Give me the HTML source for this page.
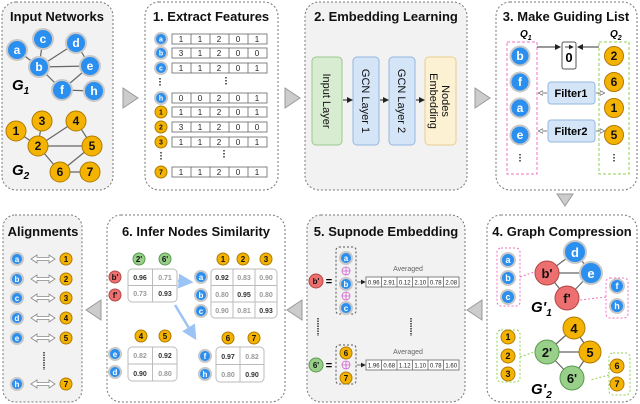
<!DOCTYPE html>
<html><head><meta charset="utf-8"><style>
html,body{margin:0;padding:0;background:#fff}
svg{display:block;font-family:"Liberation Sans",Arial,sans-serif}
.p{stroke:#777;stroke-width:1;stroke-dasharray:2 2}
.t{font-weight:bold;font-size:13px;fill:#111;text-anchor:middle}
.bl{fill:#2b8ff0;stroke:#c8c8c8;stroke-width:2}
.or{fill:#f5b301;stroke:#b07a00;stroke-width:1}
.rd{fill:#ee6f6f;stroke:#b04848;stroke-width:1}
.gr{fill:#98d08a;stroke:#5c9a50;stroke-width:1}
.wl{fill:#fff;font-weight:bold;text-anchor:middle}
.kl{fill:#111;font-weight:bold;text-anchor:middle}
.e{stroke:#666;stroke-width:1.2}
.cell{fill:#fff;stroke:#666;stroke-width:0.8}
.v{font-size:8px;fill:#222;text-anchor:middle}
.tri{fill:#ccc;stroke:#999}
</style></head><body>
<svg width="640" height="404" viewBox="0 0 640 404">
<defs>
<marker id="ah" markerWidth="6" markerHeight="6" refX="5" refY="3" orient="auto"><path d="M0,0 L6,3 L0,6 z" fill="#222"/></marker>
<marker id="ao" markerWidth="6" markerHeight="6" refX="5" refY="3" orient="auto"><path d="M0,0 L6,3 L0,6 z" fill="#fff" stroke="#555" stroke-width="0.8"/></marker>
<marker id="ab" markerWidth="6" markerHeight="6" refX="5" refY="3" orient="auto"><path d="M0,0 L6,3 L0,6 z" fill="#9cc3f5"/></marker>
</defs>

<rect x="2" y="2" width="111" height="188" rx="14" fill="#f2f2f2" class="p"/>
<rect x="145" y="2" width="133" height="188" rx="14" fill="#fff" class="p"/>
<rect x="305" y="2" width="162" height="188" rx="14" fill="#f2f2f2" class="p"/>
<rect x="496" y="2" width="141" height="188" rx="14" fill="#fff" class="p"/>
<rect x="3" y="215" width="79" height="187" rx="12" fill="#f2f2f2" class="p"/>
<rect x="107" y="215" width="178" height="187" rx="14" fill="#fff" class="p"/>
<rect x="307" y="215" width="158" height="187" rx="14" fill="#f2f2f2" class="p"/>
<rect x="487" y="215" width="150" height="187" rx="14" fill="#fff" class="p"/>

<path d="M123,88 L138,98 L123,108 z" class="tri"/>
<path d="M285,88 L300,98 L285,108 z" class="tri"/>
<path d="M475,88 L490,98 L475,108 z" class="tri"/>
<path d="M557,194 L573,194 L565,206 z" class="tri"/>
<path d="M482,300 L467,310 L482,320 z" class="tri"/>
<path d="M302,300 L287,310 L302,320 z" class="tri"/>
<path d="M101,300 L86,310 L101,320 z" class="tri"/>

<text x="57" y="21" class="t">Input Networks</text>
<text x="211" y="21" class="t">1. Extract Features</text>
<text x="386" y="21" class="t">2. Embedding Learning</text>
<text x="566" y="21" class="t">3. Make Guiding List</text>
<text x="43" y="236" class="t">Alignments</text>
<text x="196" y="236" class="t">6. Infer Nodes Similarity</text>
<text x="386" y="236" class="t">5. Supnode Embedding</text>
<text x="562" y="236" class="t">4. Graph Compression</text>

<g class="e">
<line x1="17" y1="50" x2="39" y2="67"/><line x1="43" y1="39" x2="39" y2="67"/><line x1="39" y1="67" x2="76" y2="43"/><line x1="39" y1="67" x2="90" y2="66"/><line x1="76" y1="43" x2="90" y2="66"/><line x1="39" y1="67" x2="62" y2="90"/><line x1="62" y1="90" x2="90" y2="66"/><line x1="62" y1="90" x2="94" y2="91"/>
<line x1="16" y1="131" x2="38" y2="146"/><line x1="42" y1="121" x2="38" y2="146"/><line x1="38" y1="146" x2="76" y2="121"/><line x1="38" y1="146" x2="92" y2="146"/><line x1="76" y1="121" x2="92" y2="146"/><line x1="38" y1="146" x2="60" y2="172"/><line x1="60" y1="172" x2="92" y2="146"/><line x1="60" y1="172" x2="90" y2="172"/>
</g>
<g font-size="12">
<circle cx="17" cy="50" r="10" class="bl"/><text x="17" y="54" class="wl">a</text>
<circle cx="43" cy="39" r="10" class="bl"/><text x="43" y="43" class="wl">c</text>
<circle cx="76" cy="43" r="10" class="bl"/><text x="76" y="47" class="wl">d</text>
<circle cx="39" cy="67" r="10" class="bl"/><text x="39" y="71" class="wl">b</text>
<circle cx="90" cy="66" r="10" class="bl"/><text x="90" y="70" class="wl">e</text>
<circle cx="62" cy="90" r="10" class="bl"/><text x="62" y="94" class="wl">f</text>
<circle cx="94" cy="91" r="10" class="bl"/><text x="94" y="95" class="wl">h</text>
<circle cx="16" cy="131" r="10" class="or"/><text x="16" y="135" class="kl">1</text>
<circle cx="42" cy="121" r="10" class="or"/><text x="42" y="125" class="kl">3</text>
<circle cx="76" cy="121" r="10" class="or"/><text x="76" y="125" class="kl">4</text>
<circle cx="38" cy="146" r="10" class="or"/><text x="38" y="150" class="kl">2</text>
<circle cx="92" cy="146" r="10" class="or"/><text x="92" y="150" class="kl">5</text>
<circle cx="60" cy="172" r="10" class="or"/><text x="60" y="176" class="kl">6</text>
<circle cx="90" cy="172" r="10" class="or"/><text x="90" y="176" class="kl">7</text>
</g>
<text x="12" y="90" font-size="15" font-style="italic" font-weight="bold">G<tspan font-size="10" dy="4">1</tspan></text>
<text x="12" y="175" font-size="15" font-style="italic" font-weight="bold">G<tspan font-size="10" dy="4">2</tspan></text>

<g font-size="7">
<circle cx="161" cy="39" r="6" class="bl" stroke-width="1"/><text x="161" y="41.5" class="wl">a</text>
<circle cx="161" cy="53" r="6" class="bl" stroke-width="1"/><text x="161" y="55.5" class="wl">b</text>
<circle cx="161" cy="68" r="6" class="bl" stroke-width="1"/><text x="161" y="70.5" class="wl">c</text>
<circle cx="161" cy="98" r="6" class="bl" stroke-width="1"/><text x="161" y="100.5" class="wl">h</text>
<circle cx="161" cy="112" r="6" class="or"/><text x="161" y="114.5" class="kl">1</text>
<circle cx="161" cy="127" r="6" class="or"/><text x="161" y="129.5" class="kl">2</text>
<circle cx="161" cy="142" r="6" class="or"/><text x="161" y="144.5" class="kl">3</text>
<circle cx="161" cy="172" r="6" class="or"/><text x="161" y="174.5" class="kl">7</text>
</g>
<g>
<g transform="translate(0,34)"><rect x="172" width="95" height="10" class="cell"/><path d="M191,0v10M210,0v10M229,0v10M248,0v10" stroke="#666" stroke-width="0.8"/><text y="8" class="v"><tspan x="181">1</tspan><tspan x="200">1</tspan><tspan x="219">2</tspan><tspan x="238">0</tspan><tspan x="257">1</tspan></text></g>
<g transform="translate(0,48)"><rect x="172" width="95" height="10" class="cell"/><path d="M191,0v10M210,0v10M229,0v10M248,0v10" stroke="#666" stroke-width="0.8"/><text y="8" class="v"><tspan x="181">3</tspan><tspan x="200">1</tspan><tspan x="219">2</tspan><tspan x="238">0</tspan><tspan x="257">0</tspan></text></g>
<g transform="translate(0,63)"><rect x="172" width="95" height="10" class="cell"/><path d="M191,0v10M210,0v10M229,0v10M248,0v10" stroke="#666" stroke-width="0.8"/><text y="8" class="v"><tspan x="181">1</tspan><tspan x="200">1</tspan><tspan x="219">2</tspan><tspan x="238">0</tspan><tspan x="257">1</tspan></text></g>
<g transform="translate(0,93)"><rect x="172" width="95" height="10" class="cell"/><path d="M191,0v10M210,0v10M229,0v10M248,0v10" stroke="#666" stroke-width="0.8"/><text y="8" class="v"><tspan x="181">0</tspan><tspan x="200">0</tspan><tspan x="219">2</tspan><tspan x="238">0</tspan><tspan x="257">1</tspan></text></g>
<g transform="translate(0,107)"><rect x="172" width="95" height="10" class="cell"/><path d="M191,0v10M210,0v10M229,0v10M248,0v10" stroke="#666" stroke-width="0.8"/><text y="8" class="v"><tspan x="181">1</tspan><tspan x="200">1</tspan><tspan x="219">2</tspan><tspan x="238">0</tspan><tspan x="257">1</tspan></text></g>
<g transform="translate(0,122)"><rect x="172" width="95" height="10" class="cell"/><path d="M191,0v10M210,0v10M229,0v10M248,0v10" stroke="#666" stroke-width="0.8"/><text y="8" class="v"><tspan x="181">3</tspan><tspan x="200">1</tspan><tspan x="219">2</tspan><tspan x="238">0</tspan><tspan x="257">0</tspan></text></g>
<g transform="translate(0,137)"><rect x="172" width="95" height="10" class="cell"/><path d="M191,0v10M210,0v10M229,0v10M248,0v10" stroke="#666" stroke-width="0.8"/><text y="8" class="v"><tspan x="181">1</tspan><tspan x="200">1</tspan><tspan x="219">2</tspan><tspan x="238">0</tspan><tspan x="257">1</tspan></text></g>
<g transform="translate(0,167)"><rect x="172" width="95" height="10" class="cell"/><path d="M191,0v10M210,0v10M229,0v10M248,0v10" stroke="#666" stroke-width="0.8"/><text y="8" class="v"><tspan x="181">1</tspan><tspan x="200">1</tspan><tspan x="219">2</tspan><tspan x="238">0</tspan><tspan x="257">1</tspan></text></g>
</g>
<g stroke="#333" stroke-width="1.5" stroke-dasharray="1.5 1.5"><path d="M160,78v9M226,77v9M161,152v8M224,150v9"/></g>

<rect x="312" y="57" width="30" height="88" rx="4" fill="#d7ecd0" stroke="#9cc88e"/>
<rect x="353" y="57" width="26" height="88" rx="4" fill="#d5e5f8" stroke="#94b6df"/>
<rect x="389" y="57" width="26" height="88" rx="4" fill="#d5e5f8" stroke="#94b6df"/>
<rect x="425" y="57" width="31" height="88" rx="4" fill="#fdf1d3" stroke="#e6cf8e"/>
<g font-size="11" text-anchor="middle" fill="#111">
<text transform="translate(327,101) rotate(90)" y="4">Input Layer</text>
<text transform="translate(366,101) rotate(90)" y="4">GCN Layer 1</text>
<text transform="translate(402,101) rotate(90)" y="4">GCN Layer 2</text>
<text transform="translate(440,101) rotate(90)" y="-2">Nodes</text>
<text transform="translate(440,101) rotate(90)" y="10">Embedding</text>
</g>
<g stroke="#222" stroke-width="1" marker-end="url(#ah)"><line x1="343" y1="100" x2="352" y2="100"/><line x1="380" y1="100" x2="388" y2="100"/><line x1="416" y1="100" x2="424" y2="100"/></g>

<text x="520" y="37" font-size="10" font-weight="bold" font-style="italic">Q<tspan font-size="7" dy="3">1</tspan></text>
<text x="610" y="37" font-size="10" font-weight="bold" font-style="italic">Q<tspan font-size="7" dy="3">2</tspan></text>
<rect x="507" y="42" width="30" height="132" fill="none" stroke="#f070c0" stroke-dasharray="3 2"/>
<rect x="599" y="42" width="30" height="132" fill="none" stroke="#90d050" stroke-dasharray="3 2"/>
<rect x="562" y="42" width="14" height="27" rx="2" fill="#fff" stroke="#555"/>
<text x="569" y="62" font-size="13" font-weight="bold" text-anchor="middle">0</text>
<path d="M565,47h8" stroke="#222" stroke-width="0.8" marker-end="url(#ah)"/>
<g stroke="#333" marker-end="url(#ah)"><line x1="537" y1="47" x2="560" y2="47"/><line x1="599" y1="47" x2="578" y2="47"/></g>
<rect x="548" y="82" width="47" height="22" rx="3" fill="#d5e5f8" stroke="#94b6df"/>
<rect x="548" y="120" width="47" height="22" rx="3" fill="#d5e5f8" stroke="#94b6df"/>
<text x="571" y="97" font-size="11" font-weight="bold" text-anchor="middle">Filter1</text>
<text x="571" y="135" font-size="11" font-weight="bold" text-anchor="middle">Filter2</text>
<g stroke="#555" stroke-width="0.8" marker-end="url(#ao)"><line x1="547" y1="93" x2="539" y2="93"/><line x1="596" y1="93" x2="604" y2="93"/><line x1="547" y1="131" x2="539" y2="131"/><line x1="596" y1="131" x2="604" y2="131"/></g>
<g font-size="12">
<circle cx="520" cy="56" r="9.5" class="bl"/><text x="520" y="60" class="wl">b</text>
<circle cx="520" cy="82" r="9.5" class="bl"/><text x="520" y="86" class="wl">f</text>
<circle cx="520" cy="108" r="9.5" class="bl"/><text x="520" y="112" class="wl">a</text>
<circle cx="520" cy="135" r="9.5" class="bl"/><text x="520" y="139" class="wl">e</text>
<circle cx="614" cy="56" r="9.5" class="or"/><text x="614" y="60" class="kl">2</text>
<circle cx="614" cy="82" r="9.5" class="or"/><text x="614" y="86" class="kl">6</text>
<circle cx="614" cy="108" r="9.5" class="or"/><text x="614" y="112" class="kl">1</text>
<circle cx="614" cy="135" r="9.5" class="or"/><text x="614" y="139" class="kl">5</text>
</g>
<g stroke="#333" stroke-width="1.5" stroke-dasharray="1.5 1.5"><path d="M520,154v8M614,154v8"/></g>

<rect x="497" y="248" width="23" height="58" rx="4" fill="none" stroke="#f070c0" stroke-dasharray="2 2"/>
<rect x="606" y="278" width="22" height="40" rx="4" fill="none" stroke="#f070c0" stroke-dasharray="2 2"/>
<rect x="497" y="330" width="23" height="52" rx="4" fill="none" stroke="#90d050" stroke-dasharray="2 2"/>
<rect x="609" y="353" width="21" height="42" rx="4" fill="none" stroke="#90d050" stroke-dasharray="2 2"/>
<g fill="none" stroke-dasharray="2 2"><path d="M520,277 L534,272" stroke="#f070c0"/><path d="M606,297 L580,300" stroke="#f070c0"/><path d="M520,357 L534,352" stroke="#90d050"/><path d="M609,375 L590,380" stroke="#90d050"/></g>
<g class="e"><line x1="547" y1="273" x2="575" y2="252"/><line x1="547" y1="273" x2="591" y2="273"/><line x1="575" y1="252" x2="591" y2="273"/><line x1="547" y1="273" x2="567" y2="298"/><line x1="567" y1="298" x2="591" y2="273"/>
<line x1="547" y1="352" x2="574" y2="328"/><line x1="547" y1="352" x2="590" y2="352"/><line x1="574" y1="328" x2="590" y2="352"/><line x1="547" y1="352" x2="572" y2="378"/><line x1="572" y1="378" x2="590" y2="352"/></g>
<g font-size="9">
<circle cx="508" cy="260" r="7" class="bl" stroke-width="1"/><text x="508" y="263" class="wl">a</text>
<circle cx="508" cy="278" r="7" class="bl" stroke-width="1"/><text x="508" y="281" class="wl">b</text>
<circle cx="508" cy="297" r="7" class="bl" stroke-width="1"/><text x="508" y="300" class="wl">c</text>
<circle cx="617" cy="286" r="7" class="bl" stroke-width="1"/><text x="617" y="289" class="wl">f</text>
<circle cx="617" cy="306" r="7" class="bl" stroke-width="1"/><text x="617" y="309" class="wl">h</text>
<circle cx="508" cy="337" r="7" class="or"/><text x="508" y="340" class="kl">1</text>
<circle cx="508" cy="356" r="7" class="or"/><text x="508" y="359" class="kl">2</text>
<circle cx="508" cy="374" r="7" class="or"/><text x="508" y="377" class="kl">3</text>
<circle cx="617" cy="366" r="7" class="or"/><text x="617" y="369" class="kl">6</text>
<circle cx="617" cy="384" r="7" class="or"/><text x="617" y="387" class="kl">7</text>
</g>
<g font-size="13">
<circle cx="547" cy="273" r="12" class="rd"/><text x="547" y="278" class="kl" font-weight="normal">b'</text>
<circle cx="575" cy="252" r="11" class="bl"/><text x="575" y="257" class="wl" font-weight="normal">d</text>
<circle cx="591" cy="273" r="11" class="bl"/><text x="591" y="278" class="wl" font-weight="normal">e</text>
<circle cx="567" cy="298" r="12" class="rd"/><text x="567" y="303" class="kl" font-weight="normal">f'</text>
<circle cx="547" cy="352" r="12" class="gr"/><text x="547" y="357" class="kl" font-weight="normal">2'</text>
<circle cx="574" cy="328" r="11" class="or"/><text x="574" y="333" class="kl">4</text>
<circle cx="590" cy="352" r="11" class="or"/><text x="590" y="357" class="kl">5</text>
<circle cx="572" cy="378" r="12" class="gr"/><text x="572" y="383" class="kl" font-weight="normal">6'</text>
</g>
<text x="531" y="312" font-size="15" font-style="italic" font-weight="bold">G'<tspan font-size="10" dy="4">1</tspan></text>
<text x="531" y="394" font-size="15" font-style="italic" font-weight="bold">G'<tspan font-size="10" dy="4">2</tspan></text>

<rect x="336" y="247" width="20" height="67" rx="3" fill="none" stroke="#555" stroke-dasharray="2 2"/>
<rect x="336" y="345" width="20" height="39" rx="3" fill="none" stroke="#555" stroke-dasharray="2 2"/>
<g font-size="8">
<circle cx="316" cy="281" r="7" class="rd"/><text x="316" y="284" class="kl">b'</text>
<circle cx="316" cy="365" r="7" class="gr"/><text x="316" y="368" class="kl">6'</text>
<circle cx="346" cy="258" r="6" class="bl" stroke-width="1"/><text x="346" y="261" class="wl">a</text>
<circle cx="346" cy="284" r="6" class="bl" stroke-width="1"/><text x="346" y="287" class="wl">b</text>
<circle cx="346" cy="308" r="6" class="bl" stroke-width="1"/><text x="346" y="311" class="wl">c</text>
<circle cx="346" cy="353" r="6" class="or"/><text x="346" y="356" class="kl">6</text>
<circle cx="346" cy="378" r="6" class="or"/><text x="346" y="381" class="kl">7</text>
</g>
<g fill="none" stroke="#d060d0" stroke-width="0.8"><circle cx="346" cy="271" r="4"/><circle cx="346" cy="296" r="4"/><circle cx="346" cy="365" r="4"/><path d="M342,271h8M346,267v8M342,296h8M346,292v8M342,365h8M346,361v8"/></g>
<text x="329" y="285" font-size="11" font-weight="bold" text-anchor="middle">=</text>
<text x="329" y="369" font-size="11" font-weight="bold" text-anchor="middle">=</text>
<g stroke="#555" stroke-width="0.8" marker-end="url(#ah)"><line x1="357" y1="282" x2="365" y2="282"/><line x1="357" y1="365" x2="365" y2="365"/></g>
<text x="408" y="271" font-size="7" fill="#666" text-anchor="middle">Averaged</text>
<text x="408" y="354" font-size="7" fill="#666" text-anchor="middle">Averaged</text>
<g transform="translate(366,277)"><rect width="93" height="10" class="cell"/><path d="M15.5,0v10M31,0v10M46.5,0v10M62,0v10M77.5,0v10" stroke="#666" stroke-width="0.8"/><text y="7.5" font-size="6" text-anchor="middle" fill="#222"><tspan x="7.75">0.96</tspan><tspan x="23.25">2.91</tspan><tspan x="38.75">0.12</tspan><tspan x="54.25">2.10</tspan><tspan x="69.75">0.78</tspan><tspan x="85.25">2.08</tspan></text></g>
<g transform="translate(366,360)"><rect width="93" height="10" class="cell"/><path d="M15.5,0v10M31,0v10M46.5,0v10M62,0v10M77.5,0v10" stroke="#666" stroke-width="0.8"/><text y="7.5" font-size="6" text-anchor="middle" fill="#222"><tspan x="7.75">1.96</tspan><tspan x="23.25">0.68</tspan><tspan x="38.75">1.12</tspan><tspan x="54.25">1.10</tspan><tspan x="69.75">0.78</tspan><tspan x="85.25">1.60</tspan></text></g>
<g stroke="#333" stroke-width="1.5" stroke-dasharray="1.5 1"><path d="M318,318v18M411,318v18"/></g>

<g font-size="8">
<circle cx="139" cy="259" r="6" class="gr"/><text x="139" y="262" class="kl">2'</text>
<circle cx="165" cy="259" r="6" class="gr"/><text x="165" y="262" class="kl">6'</text>
<circle cx="115" cy="277" r="6" class="rd"/><text x="115" y="280" class="kl">b'</text>
<circle cx="115" cy="295" r="6" class="rd"/><text x="115" y="298" class="kl">f'</text>
<circle cx="223" cy="259" r="6" class="or"/><text x="223" y="262" class="kl">1</text>
<circle cx="243" cy="259" r="6" class="or"/><text x="243" y="262" class="kl">2</text>
<circle cx="266" cy="259" r="6" class="or"/><text x="266" y="262" class="kl">3</text>
<circle cx="201" cy="277" r="6" class="bl" stroke-width="1"/><text x="201" y="280" class="wl">a</text>
<circle cx="201" cy="295" r="6" class="bl" stroke-width="1"/><text x="201" y="298" class="wl">b</text>
<circle cx="201" cy="311" r="6" class="bl" stroke-width="1"/><text x="201" y="314" class="wl">c</text>
<circle cx="141" cy="336" r="6" class="or"/><text x="141" y="339" class="kl">4</text>
<circle cx="165" cy="336" r="6" class="or"/><text x="165" y="339" class="kl">5</text>
<circle cx="115" cy="354" r="6" class="bl" stroke-width="1"/><text x="115" y="357" class="wl">e</text>
<circle cx="115" cy="372" r="6" class="bl" stroke-width="1"/><text x="115" y="375" class="wl">d</text>
<circle cx="228" cy="338" r="6" class="or"/><text x="228" y="341" class="kl">6</text>
<circle cx="254" cy="338" r="6" class="or"/><text x="254" y="341" class="kl">7</text>
<circle cx="205" cy="356" r="6" class="bl" stroke-width="1"/><text x="205" y="359" class="wl">f</text>
<circle cx="205" cy="374" r="6" class="bl" stroke-width="1"/><text x="205" y="377" class="wl">h</text>
</g>
<g fill="#fff" stroke="#bbb">
<rect x="128" y="269" width="49" height="33" rx="4"/><path d="M152.5,269v33M128,285.5h49"/>
<rect x="211" y="269" width="66" height="49" rx="4"/><path d="M233,269v49M255,269v49M211,285.5h66M211,302h66"/>
<rect x="128" y="347" width="49" height="34" rx="4"/><path d="M152.5,347v34M128,364h49"/>
<rect x="216" y="347" width="48" height="35" rx="4"/><path d="M240,347v35M216,364.5h48"/>
</g>
<g font-size="7" text-anchor="middle" font-weight="bold">
<text x="140" y="280" fill="#333">0.96</text><text x="165" y="280" fill="#999">0.71</text>
<text x="140" y="296" fill="#999">0.73</text><text x="165" y="296" fill="#333">0.93</text>
<text x="222" y="280" fill="#333">0.92</text><text x="244" y="280" fill="#999">0.83</text><text x="266" y="280" fill="#999">0.90</text>
<text x="222" y="297" fill="#999">0.80</text><text x="244" y="297" fill="#333">0.95</text><text x="266" y="297" fill="#999">0.80</text>
<text x="222" y="313" fill="#999">0.90</text><text x="244" y="313" fill="#999">0.81</text><text x="266" y="313" fill="#333">0.93</text>
<text x="140" y="358" fill="#999">0.82</text><text x="165" y="358" fill="#333">0.92</text>
<text x="140" y="376" fill="#333">0.90</text><text x="165" y="376" fill="#999">0.80</text>
<text x="228" y="359" fill="#333">0.97</text><text x="252" y="359" fill="#999">0.82</text>
<text x="228" y="377" fill="#999">0.80</text><text x="252" y="377" fill="#333">0.90</text>
</g>
<g stroke="#9cc3f5" stroke-width="2.5" marker-end="url(#ab)"><line x1="178" y1="281" x2="191" y2="282"/><line x1="175" y1="305" x2="195" y2="338"/></g>

<g font-size="8">
<circle cx="17" cy="259" r="6" class="bl" stroke-width="1"/><text x="17" y="262" class="wl">a</text>
<circle cx="17" cy="279" r="6" class="bl" stroke-width="1"/><text x="17" y="282" class="wl">b</text>
<circle cx="17" cy="298" r="6" class="bl" stroke-width="1"/><text x="17" y="301" class="wl">c</text>
<circle cx="17" cy="318" r="6" class="bl" stroke-width="1"/><text x="17" y="321" class="wl">d</text>
<circle cx="17" cy="338" r="6" class="bl" stroke-width="1"/><text x="17" y="341" class="wl">e</text>
<circle cx="17" cy="384" r="6" class="bl" stroke-width="1"/><text x="17" y="387" class="wl">h</text>
<circle cx="66" cy="259" r="6" class="or"/><text x="66" y="262" class="kl">1</text>
<circle cx="66" cy="279" r="6" class="or"/><text x="66" y="282" class="kl">2</text>
<circle cx="66" cy="298" r="6" class="or"/><text x="66" y="301" class="kl">3</text>
<circle cx="66" cy="318" r="6" class="or"/><text x="66" y="321" class="kl">4</text>
<circle cx="66" cy="338" r="6" class="or"/><text x="66" y="341" class="kl">5</text>
<circle cx="66" cy="384" r="6" class="or"/><text x="66" y="387" class="kl">7</text>
</g>
<g fill="#fff" stroke="#888" stroke-width="0.8">
<path id="da" d="M31,259 l6,-4 v2.5 h12 v-2.5 l6,4 l-6,4 v-2.5 h-12 v2.5 z"/>
<use href="#da" y="20"/><use href="#da" y="39"/><use href="#da" y="59"/><use href="#da" y="79"/><use href="#da" y="125"/>
</g>
<path d="M44,352v18" stroke="#333" stroke-width="1.5" stroke-dasharray="1.5 1"/>
</svg>
</body></html>
